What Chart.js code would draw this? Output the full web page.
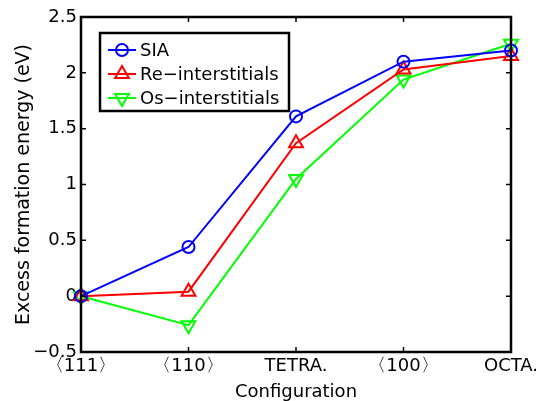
<!DOCTYPE html>
<html>
<head>
<meta charset="utf-8">
<script src="https://cdn.jsdelivr.net/npm/chart.js"></script>
<style>
  html, body { margin: 0; padding: 0; background: #fff; }
  #wrap { width: 552px; height: 401px; }
</style>
</head>
<body>
<div id="wrap"><canvas id="chart" width="552" height="401"></canvas></div>
<script>
// Configurations along the x axis
const categories = ['\u3008111\u3009', '\u3008110\u3009', 'TETRA.', '\u3008100\u3009', 'OCTA.'];

// Excess formation energy (eV)
const siaValues = [0, 0.44, 1.61, 2.10, 2.20];
const reValues  = [0, 0.04, 1.37, 2.03, 2.15];
const osValues  = [0, -0.26, 1.05, 1.94, 2.26];

const yTicks = [-0.5, 0, 0.5, 1, 1.5, 2, 2.5];

const FONT = 'DejaVu Sans, Arial, sans-serif';

// draws a MATLAB-like marker (open)
function drawMarker(ctx, style, x, y, r) {
  ctx.beginPath();
  if (style === 'circle') {
    ctx.arc(x, y, r, 0, Math.PI * 2);
  } else {
    const dir = style === 'triangleDown' ? -1 : 1;
    ctx.moveTo(x, y - dir * r);
    ctx.lineTo(x + r * 0.866, y + dir * r * 0.5);
    ctx.lineTo(x - r * 0.866, y + dir * r * 0.5);
    ctx.closePath();
  }
  ctx.stroke();
}

// box around the axes, inward ticks on all four sides, and the boxed legend
const matlabFrame = {
  id: 'matlabFrame',
  afterDraw(chart) {
    const { ctx, chartArea: a, scales } = chart;
    const tl = 5;
    ctx.save();
    ctx.strokeStyle = '#000';
    ctx.lineWidth = 1.5;
    ctx.beginPath();
    scales.x.ticks.forEach((t, i) => {
      const px = scales.x.getPixelForTick(i);
      ctx.moveTo(px, a.bottom); ctx.lineTo(px, a.bottom - tl);
      ctx.moveTo(px, a.top); ctx.lineTo(px, a.top + tl);
    });
    scales.y.ticks.forEach((t, i) => {
      const py = scales.y.getPixelForTick(i);
      ctx.moveTo(a.left, py); ctx.lineTo(a.left + tl, py);
      ctx.moveTo(a.right, py); ctx.lineTo(a.right - tl, py);
    });
    ctx.stroke();
    ctx.lineWidth = 2.5;
    ctx.strokeRect(a.left, a.top, a.right - a.left, a.bottom - a.top);

    // legend
    const box = { x: 100, y: 33, w: 189, h: 78 };
    ctx.fillStyle = '#fff';
    ctx.fillRect(box.x, box.y, box.w, box.h);
    ctx.lineWidth = 2.5;
    ctx.strokeRect(box.x, box.y, box.w, box.h);
    ctx.font = '18px ' + FONT;
    ctx.textBaseline = 'middle';
    ctx.textAlign = 'left';
    chart.data.datasets.forEach((ds, i) => {
      const yy = box.y + 17 + i * 24;
      ctx.strokeStyle = ds.borderColor;
      ctx.lineWidth = 2;
      ctx.beginPath();
      ctx.moveTo(box.x + 8, yy); ctx.lineTo(box.x + 36, yy);
      ctx.stroke();
      drawMarker(ctx, ds.markerStyle, box.x + 22, yy, ds.pointRadius);
      ctx.fillStyle = '#000';
      ctx.fillText(ds.label, box.x + 40, yy + 1);
    });
    ctx.restore();
  }
};

const ctx = document.getElementById('chart').getContext('2d');
new Chart(ctx, {
  type: 'line',
  data: {
    labels: categories,
    datasets: [
      {
        label: 'SIA',
        data: siaValues,
        borderColor: '#0000ff',
        markerStyle: 'circle',
        pointStyle: 'circle',
        pointRadius: 6
      },
      {
        label: 'Re\u2212interstitials',
        data: reValues,
        borderColor: '#ff0000',
        markerStyle: 'triangle',
        pointStyle: 'triangle',
        pointRadius: 8
      },
      {
        label: 'Os\u2212interstitials',
        data: osValues,
        borderColor: '#00ff00',
        markerStyle: 'triangleDown',
        pointStyle: 'triangle',
        pointRotation: 180,
        pointRadius: 8
      }
    ].map(ds => Object.assign({
      borderWidth: 2,
      pointBorderColor: ds.borderColor,
      pointBackgroundColor: 'rgba(0,0,0,0)',
      pointBorderWidth: 2,
      tension: 0,
      fill: false
    }, ds))
  },
  options: {
    responsive: false,
    animation: false,
    layout: { padding: { left: 0, right: 41, top: 17, bottom: 0 } },
    plugins: {
      legend: { display: false },
      tooltip: { enabled: false }
    },
    scales: {
      x: {
        type: 'category',
        offset: false,
        grid: { display: false, drawTicks: false },
        border: { display: false },
        ticks: {
          color: '#000',
          font: { family: FONT, size: 18 },
          padding: 4,
          maxRotation: 0,
          autoSkip: false
        },
        title: {
          display: true,
          text: 'Configuration',
          color: '#000',
          font: { family: FONT, size: 18 },
          padding: { top: 0, bottom: -2 }
        },
        afterFit(scale) { scale.height = 49; }
      },
      y: {
        min: -0.5,
        max: 2.5,
        grid: { display: false, drawTicks: false },
        border: { display: false },
        afterBuildTicks(scale) {
          scale.ticks = yTicks.map(v => ({ value: v }));
        },
        ticks: {
          color: '#000',
          font: { family: FONT, size: 18 },
          padding: 4,
          callback: v => String(v).replace('-', '\u2212')
        },
        title: {
          display: true,
          text: 'Excess formation energy (eV)',
          color: '#000',
          font: { family: FONT, size: 19 },
          padding: { top: 13, bottom: 0 }
        },
        afterFit(scale) { scale.width = 81; }
      }
    }
  },
  plugins: [matlabFrame]
});
</script>
</body>
</html>
